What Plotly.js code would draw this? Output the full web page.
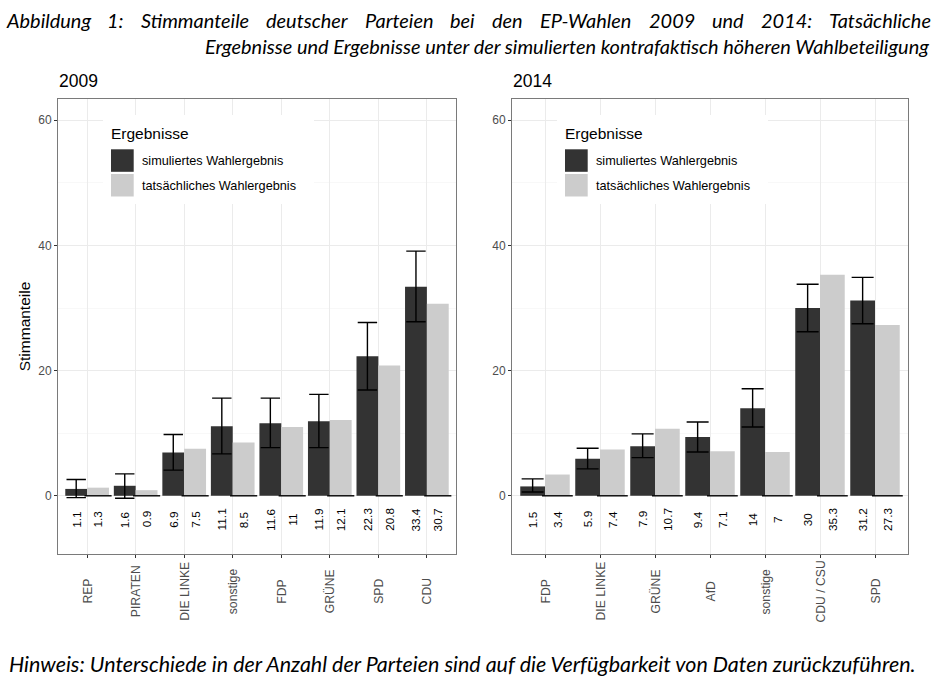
<!DOCTYPE html>
<html>
<head>
<meta charset="utf-8">
<script src="https://cdn.plot.ly/plotly-3.0.1.min.js"></script>
<style>
  body { margin: 0; background: #fff; }
  #chart { width: 939px; height: 686px; }
</style>
</head>
<body>
<div id="chart"></div>
<script>
// EP-Wahl 2009
var parties09 = ['REP', 'PIRATEN', 'DIE LINKE', 'sonstige', 'FDP', 'GRÜNE', 'SPD', 'CDU'];
var sim09 = [1.1, 1.6, 6.9, 11.1, 11.6, 11.9, 22.3, 33.4];
var act09 = [1.3, 0.9, 7.5, 8.5, 11, 12.1, 20.8, 30.7];
var lo09 = [-0.3, -0.4, 4.1, 6.7, 7.7, 7.7, 16.9, 27.8];
var hi09 = [2.6, 3.5, 9.8, 15.6, 15.6, 16.2, 27.7, 39.1];

// EP-Wahl 2014
var parties14 = ['FDP', 'DIE LINKE', 'GRÜNE', 'AfD', 'sonstige', 'CDU / CSU', 'SPD'];
var sim14 = [1.5, 5.9, 7.9, 9.4, 14, 30, 31.2];
var act14 = [3.4, 7.4, 10.7, 7.1, 7, 35.3, 27.3];
var lo14 = [0.6, 4.3, 6.1, 7.0, 11.0, 26.2, 27.5];
var hi14 = [2.7, 7.6, 9.9, 11.8, 17.1, 33.8, 34.9];

var yTicks = [0, 20, 40, 60];
var seriesNames = ['simuliertes Wahlergebnis', 'tatsächliches Wahlergebnis'];
var colors = ['#333333', '#cccccc'];

var titleLine1 = 'Abbildung 1: Stimmanteile deutscher Parteien bei den EP-Wahlen 2009 und 2014: Tatsächliche';
var titleLine2 = 'Ergebnisse und Ergebnisse unter der simulierten kontrafaktisch höheren Wahlbeteiligung';
var footnote = 'Hinweis: Unterschiede in der Anzahl der Parteien sind auf die Verfügbarkeit von Daten zurückzuführen.';

var W = 939, H = 686;
var BAR = 0.45;
var SANS = 'Liberation Sans, Arial, sans-serif';
function px(x) { return x / W }
function py(y) { return 1 - y / H }

var traces = [];
var annotations = [];
var shapes = [];

function panel(parties, sim, act, lo, hi, n, left, right, capPx) {
  var xa = n === 1 ? 'x' : 'x2';
  var ya = n === 1 ? 'y' : 'y2';
  var idx = parties.map(function(p, i) { return i });

  traces.push({
    type: 'bar', x: idx, y: sim, width: BAR, offset: -BAR,
    xaxis: xa, yaxis: ya, marker: {color: colors[0]},
    showlegend: false, hoverinfo: 'skip',
    error_y: {
      type: 'data', symmetric: false,
      array: hi.map(function(h, i) { return h - sim[i] }),
      arrayminus: lo.map(function(l, i) { return sim[i] - l }),
      color: '#000', thickness: 1.4, width: capPx
    }
  });
  traces.push({
    type: 'bar', x: idx, y: act, width: BAR, offset: 0,
    xaxis: xa, yaxis: ya, marker: {color: colors[1]},
    showlegend: false, hoverinfo: 'skip'
  });
  // flat error bar at zero under the actual results
  traces.push({
    type: 'scatter', mode: 'markers',
    x: idx.map(function(i) { return i + BAR / 2 }),
    y: act.map(function() { return 0 }),
    xaxis: xa, yaxis: ya, showlegend: false, hoverinfo: 'skip', cliponaxis: false,
    marker: {symbol: 'line-ew', size: capPx * 2, line: {color: '#000', width: 1.4}}
  });

  idx.forEach(function(i) {
    // value labels below the bars
    [[sim[i], -BAR / 2], [act[i], BAR / 2]].forEach(function(v) {
      annotations.push({
        xref: xa, yref: ya, x: i + v[1], y: -3.8, text: String(v[0]),
        xanchor: 'center', yanchor: 'middle',
        textangle: -90, showarrow: false, font: {family: SANS, size: 11.8, color: '#000'}
      });
    });
    // party names, centred under the ticks like in ggplot
    annotations.push({
      xref: xa, yref: 'paper', x: i, y: py(591.5), text: parties[i],
      xanchor: 'center', yanchor: 'middle',
      textangle: -90, showarrow: false, font: {family: SANS, size: 12.2, color: '#4d4d4d'}
    });
  });

  // panel title
  annotations.push({
    xref: 'paper', yref: 'paper', x: px(left - 1), y: py(81), xanchor: 'left', yanchor: 'middle',
    text: n === 1 ? '2009' : '2014', showarrow: false, font: {family: SANS, size: 17.5, color: '#000'}
  });

  // legend inside panel
  var lx = left + 53;
  shapes.push({type: 'rect', xref: 'paper', yref: 'paper', layer: 'above',
    x0: px(lx - 8), x1: px(lx + 203), y0: py(204), y1: py(115),
    fillcolor: '#fff', line: {width: 0}});
  annotations.push({
    xref: 'paper', yref: 'paper', x: px(lx - 2), y: py(133.3), xanchor: 'left', yanchor: 'middle',
    text: 'Ergebnisse', showarrow: false, font: {family: SANS, size: 15.5, color: '#000'}
  });
  seriesNames.forEach(function(name, k) {
    var top = 149.3 + k * 24.7;
    shapes.push({type: 'rect', xref: 'paper', yref: 'paper', layer: 'above',
      x0: px(lx), x1: px(lx + 22.7), y0: py(top + 22.5), y1: py(top),
      fillcolor: colors[k], line: {width: 0}});
    annotations.push({
      xref: 'paper', yref: 'paper', x: px(lx + 29), y: py(top + 11.5), xanchor: 'left', yanchor: 'middle',
      text: name, showarrow: false, font: {family: SANS, size: 12.7, color: '#000'}
    });
  });

  return {
    x: {
      domain: [px(left), px(right)], range: [-0.6, parties.length - 0.4], anchor: ya,
      tickmode: 'array', tickvals: idx, showticklabels: false,
      ticks: 'outside', ticklen: 3, tickcolor: '#333', tickwidth: 1,
      showgrid: true, gridcolor: '#ebebeb', gridwidth: 1, zeroline: false,
      showline: true, mirror: true, linecolor: '#7a7a7a', linewidth: 1, fixedrange: true
    },
    y: {
      domain: [py(554), py(99)], range: [-9.3, 63.4], anchor: xa,
      tickmode: 'array', tickvals: yTicks,
      ticks: 'outside', ticklen: 3, tickcolor: '#333', tickwidth: 1,
      tickfont: {family: SANS, size: 12, color: '#4d4d4d'},
      showgrid: true, gridcolor: '#ebebeb', gridwidth: 1, zeroline: false,
      minor: {dtick: 10, tick0: 0, showgrid: true, gridcolor: '#f4f4f4', gridwidth: 0.6, ticks: ''},
      showline: true, mirror: true, linecolor: '#7a7a7a', linewidth: 1, fixedrange: true
    }
  };
}

var p1 = panel(parties09, sim09, act09, lo09, hi09, 1, 58, 456, 9.7);
var p2 = panel(parties14, sim14, act14, lo14, hi14, 2, 512, 908, 11);
p1.y.title = {text: 'Stimmanteile', font: {family: SANS, size: 15.5, color: '#000'}, standoff: 3};

// italic caption lines, sized and justified by measuring the words
var CAP = 'Lato, Open Sans, sans-serif';
var ctx = document.createElement('canvas').getContext('2d');
function textW(s, size) {
  ctx.font = 'italic ' + size + 'px Lato, "Open Sans", sans-serif';
  return ctx.measureText(s).width;
}
var capSize = 20 * 725 / textW(titleLine2, 20);
var footSize = 20 * 910 / textW(footnote, 20);

var words = titleLine1.split(' ');
var widths = words.map(function(w) { return textW(w, capSize) });
var sum = widths.reduce(function(a, b) { return a + b }, 0);
var gap = (925 - sum) / (words.length - 1);
var cx = 5;
words.forEach(function(w, i) {
  annotations.push({
    xref: 'paper', yref: 'paper', x: px(cx - 1), y: py(20), xanchor: 'left', yanchor: 'middle',
    text: w, showarrow: false, font: {family: CAP, size: capSize, style: 'italic', color: '#000'}
  });
  cx += widths[i] + gap;
});
annotations.push({
  xref: 'paper', yref: 'paper', x: px(931), y: py(46), xanchor: 'right', yanchor: 'middle',
  text: titleLine2, showarrow: false, font: {family: CAP, size: capSize, style: 'italic', color: '#000'}
});
annotations.push({
  xref: 'paper', yref: 'paper', x: px(7), y: py(664), xanchor: 'left', yanchor: 'middle',
  text: footnote, showarrow: false, font: {family: CAP, size: footSize, style: 'italic', color: '#000'}
});

var layout = {
  width: W, height: H,
  margin: {t: 0, r: 0, b: 0, l: 0},
  paper_bgcolor: '#fff', plot_bgcolor: '#fff',
  font: {family: SANS},
  barmode: 'overlay',
  showlegend: false,
  hovermode: false,
  xaxis: p1.x, yaxis: p1.y,
  xaxis2: p2.x, yaxis2: p2.y,
  annotations: annotations,
  shapes: shapes
};

Plotly.newPlot('chart', traces, layout, {displayModeBar: false, staticPlot: true});
</script>
</body>
</html>
